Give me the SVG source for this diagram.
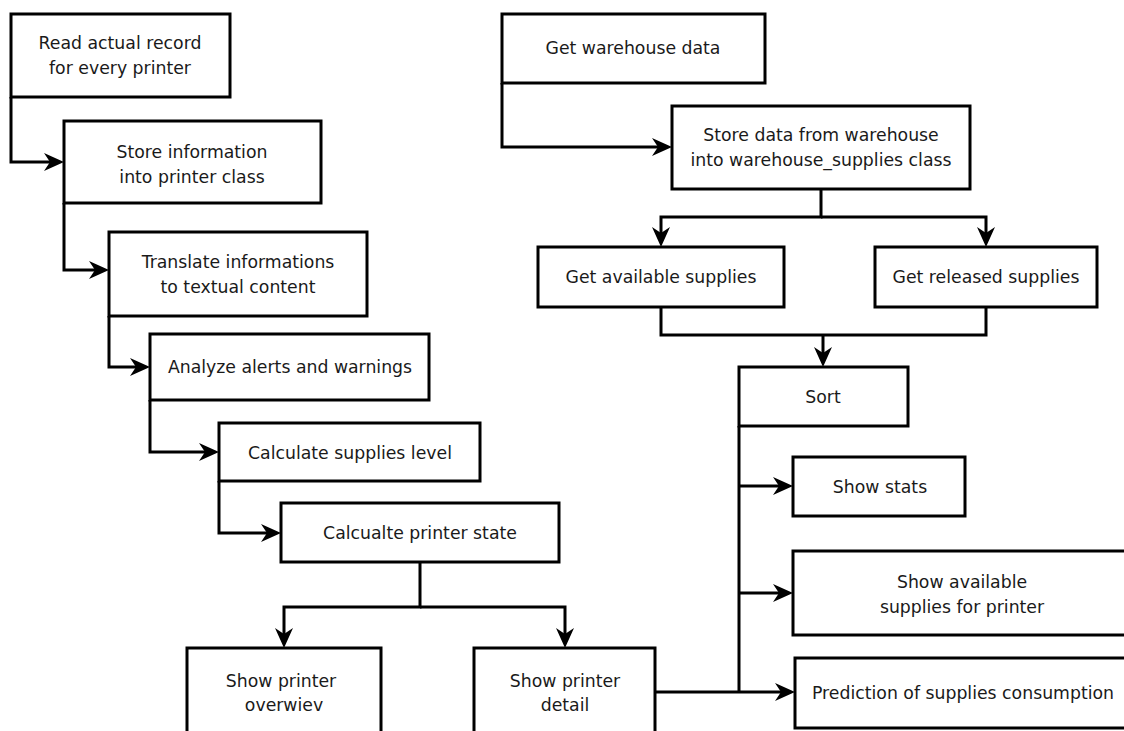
<svg xmlns="http://www.w3.org/2000/svg" width="1124" height="731" viewBox="0 0 1124 731">
<style>
.box{fill:#fff;stroke:#000;stroke-width:3}
.t{font-family:"DejaVu Sans",Verdana,sans-serif;font-size:17.3px;fill:#1a1a1a;text-anchor:middle}
.c{fill:none;stroke:#000;stroke-width:3}
</style>
<defs>
<marker id="ah" markerUnits="userSpaceOnUse" markerWidth="20" markerHeight="18" refX="6" refY="9" orient="auto" viewBox="0 0 20 18">
<path d="M0,0 L20,9 L0,18 L6,9 Z" fill="#000"/>
</marker>
</defs>
<rect width="1124" height="731" fill="#fff"/>
<g id="connectors">
<path class="c" d="M11,97 V162 H50" marker-end="url(#ah)"/>
<path class="c" d="M64,203 V270 H95" marker-end="url(#ah)"/>
<path class="c" d="M109,316 V367 H136" marker-end="url(#ah)"/>
<path class="c" d="M150,400 V452 H205" marker-end="url(#ah)"/>
<path class="c" d="M219,481 V533 H267" marker-end="url(#ah)"/>
<path class="c" d="M420,562 V607 H284 V634" marker-end="url(#ah)"/>
<path class="c" d="M420,607 H565 V634" marker-end="url(#ah)"/>
<path class="c" d="M502,83 V147 H658" marker-end="url(#ah)"/>
<path class="c" d="M821,189 V217 H661 V233" marker-end="url(#ah)"/>
<path class="c" d="M821,217 H986 V233" marker-end="url(#ah)"/>
<path class="c" d="M661,307 V335 H986 V307"/>
<path class="c" d="M823,335 V353" marker-end="url(#ah)"/>
<path class="c" d="M739,426 V692"/>
<path class="c" d="M739,486 H779" marker-end="url(#ah)"/>
<path class="c" d="M739,593 H779" marker-end="url(#ah)"/>
<path class="c" d="M655,692 H781" marker-end="url(#ah)"/>
</g>
<g id="n1"><rect class="box" x="11" y="14" width="219" height="83"/><text class="t" x="120" y="49">Read actual record</text><text class="t" x="120" y="74">for every printer</text></g>
<g id="n2"><rect class="box" x="64" y="121" width="257" height="82"/><text class="t" x="192" y="158">Store information</text><text class="t" x="192" y="183">into printer class</text></g>
<g id="n3"><rect class="box" x="109" y="232" width="258" height="84"/><text class="t" x="238" y="268">Translate informations</text><text class="t" x="238" y="293">to textual content</text></g>
<g id="n4"><rect class="box" x="150" y="334" width="279" height="66"/><text class="t" x="290" y="373">Analyze alerts and warnings</text></g>
<g id="n5"><rect class="box" x="219" y="423" width="261" height="58"/><text class="t" x="350" y="459">Calculate supplies level</text></g>
<g id="n6"><rect class="box" x="281" y="503" width="278" height="59"/><text class="t" x="420" y="539">Calcualte printer state</text></g>
<g id="n7"><rect class="box" x="187" y="648" width="194" height="100"/><text class="t" x="281" y="687">Show printer</text><text class="t" x="284" y="711">overwiev</text></g>
<g id="n8"><rect class="box" x="474" y="648" width="181" height="100"/><text class="t" x="565" y="687">Show printer</text><text class="t" x="565" y="711">detail</text></g>
<g id="w1"><rect class="box" x="502" y="14" width="263" height="69"/><text class="t" x="633" y="54">Get warehouse data</text></g>
<g id="w2"><rect class="box" x="672" y="106" width="298" height="83"/><text class="t" x="821" y="141">Store data from warehouse</text><text class="t" x="821" y="166">into warehouse_supplies class</text></g>
<g id="w3"><rect class="box" x="538" y="247" width="246" height="60"/><text class="t" x="661" y="283">Get available supplies</text></g>
<g id="w4"><rect class="box" x="875" y="247" width="222" height="60"/><text class="t" x="986" y="283">Get released supplies</text></g>
<g id="w5"><rect class="box" x="739" y="367" width="169" height="59"/><text class="t" x="823" y="403">Sort</text></g>
<g id="w6"><rect class="box" x="793" y="457" width="172" height="59"/><text class="t" x="880" y="493">Show stats</text></g>
<g id="w7"><rect class="box" x="793" y="551" width="340" height="84"/><text class="t" x="962" y="588">Show available</text><text class="t" x="962" y="613">supplies for printer</text></g>
<g id="w8"><rect class="box" x="795" y="658" width="340" height="70"/><text class="t" x="963" y="699">Prediction of supplies consumption</text></g>
</svg>
